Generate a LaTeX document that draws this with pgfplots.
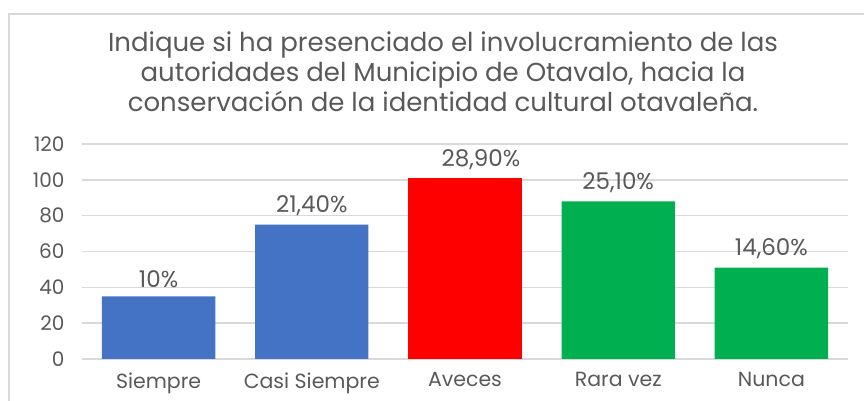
\documentclass[border=0pt]{standalone}
\usepackage{pgfplots}
\pgfplotsset{compat=1.18}
\usepackage{fontspec}
\setmainfont{Poppins}
\definecolor{txt}{HTML}{595959}
\definecolor{gridc}{HTML}{D9D9D9}
\definecolor{cblue}{HTML}{4472C4}
\definecolor{cred}{HTML}{FF0000}
\definecolor{cgreen}{HTML}{00B050}
\begin{document}
\begin{tikzpicture}[x=1pt,y=1pt]
\path[use as bounding box] (0,0) rectangle (864,401);
\draw[gridc,line width=2pt] (9,0) -- (9,387) -- (864,387);
\node[txt,font=\fontsize{26}{30}\selectfont,anchor=base] at (443,349) {Indique si ha presenciado el involucramiento de las};
\node[txt,font=\fontsize{26}{30}\selectfont,anchor=base] at (443,319) {autoridades del Municipio de Otavalo, hacia la};
\node[txt,font=\fontsize{26}{30}\selectfont,anchor=base] at (443,289) {conservación de la identidad cultural otavaleña.};
\begin{axis}[
  at={(82pt,42pt)}, anchor=south west,
  scale only axis, width=766pt, height=215pt,
  xmin=-0.5, xmax=4.5, ymin=0, ymax=120,
  ytick={0,20,...,120},
  xtick={0,1,2,3,4},
  xticklabels={Siempre,Casi Siempre,Aveces,Rara vez,Nunca},
  axis line style={draw=none},
  ymajorgrids, grid style={gridc,line width=1.5pt},
  major tick length=0pt,
  /pgf/number format/assume math mode=true,
  yticklabel style={txt,font=\fontsize{20}{24}\selectfont,xshift=-14pt},
  xticklabel style={txt,font=\fontsize{20.5}{24}\selectfont,yshift=-10pt},
  ybar, bar width=0.74, bar shift=0pt,
  nodes near coords,
  point meta=explicit symbolic,
  every node near coord/.append style={txt,font=\fontsize{23}{27}\selectfont,yshift=5pt},
]
\addplot[fill=cblue,draw=none] coordinates {(0,35)[10\%] (1,75)[21,40\%]};
\addplot[fill=cred,draw=none,every node near coord/.append style={xshift=16pt}] coordinates {(2,101)[28,90\%]};
\addplot[fill=cgreen,draw=none] coordinates {(3,88)[25,10\%] (4,51)[14,60\%]};
\end{axis}
\end{tikzpicture}
\end{document}
